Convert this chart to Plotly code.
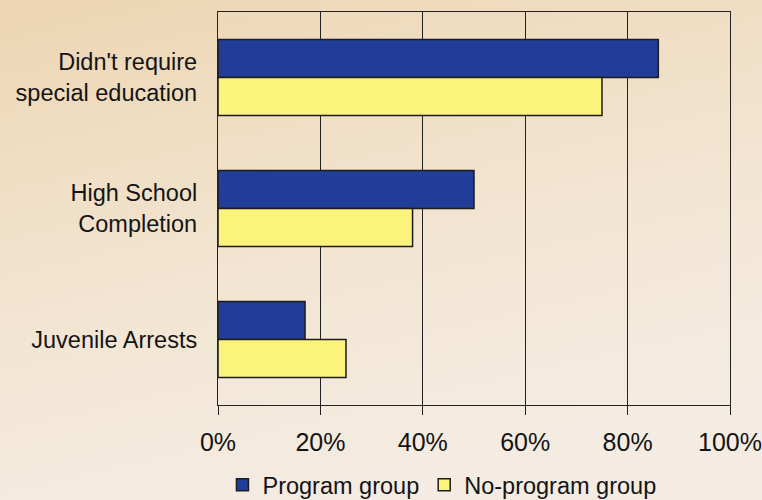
import base64
import plotly.graph_objects as go

# Outcome categories, top to bottom
categories = ["Didn't require<br>special education", "High School<br>Completion", "Juvenile Arrests"]
program_group = [86, 50, 17]
no_program_group = [75, 38, 25]
tick_values = [0, 20, 40, 60, 80, 100]
tick_labels = ["0%", "20%", "40%", "60%", "80%", "100%"]

BLUE = "#213d98"
YELLOW = "#fcf37c"
EDGE = "#1c1c1c"
TEXT = "#141414"
FONT = "Liberation Sans, Arial, sans-serif"

# soft beige paper gradient behind the chart
svg = (
    '<svg xmlns="http://www.w3.org/2000/svg" width="762" height="500">'
    '<defs><linearGradient id="g" x1="0" y1="0" x2="0.35" y2="1">'
    '<stop offset="0" stop-color="#edd5b3"/>'
    '<stop offset="0.55" stop-color="#f2e4d0"/>'
    '<stop offset="1" stop-color="#f4ece2"/>'
    '</linearGradient></defs>'
    '<rect width="762" height="500" fill="url(#g)"/></svg>'
)
bg_uri = "data:image/svg+xml;base64," + base64.b64encode(svg.encode()).decode()

fig = go.Figure()
fig.add_trace(go.Bar(
    y=categories, x=program_group, orientation="h", name="Program group",
    marker=dict(color=BLUE, line=dict(color=EDGE, width=1.5)),
))
fig.add_trace(go.Bar(
    y=categories, x=no_program_group, orientation="h", name="No-program group",
    marker=dict(color=YELLOW, line=dict(color=EDGE, width=1.5)),
))

fig.update_layout(
    width=762, height=500,
    margin=dict(l=218, r=32, t=12, b=95, autoexpand=False),
    paper_bgcolor="#f2e4d0",
    plot_bgcolor="white",
    barmode="group",
    bargap=0.42,
    bargroupgap=0,
    font=dict(family=FONT, size=23, color=TEXT),
    images=[dict(source=bg_uri, xref="paper", yref="paper", x=-218 / 512, y=1 + 12 / 393,
                 sizex=762 / 512, sizey=500 / 393, xanchor="left", yanchor="top",
                 sizing="stretch", layer="below")],
    legend=dict(
        orientation="h", xref="container", yref="container",
        x=0.58, xanchor="center", y=0.03, yanchor="middle",
        font=dict(size=23.5, color=TEXT), bgcolor="rgba(0,0,0,0)",
        itemwidth=30, tracegroupgap=0,
    ),
    showlegend=True,
)

fig.update_xaxes(
    range=[0, 100], tickvals=tick_values, ticktext=tick_labels,
    showgrid=True, gridcolor="#222222", gridwidth=1,
    showline=True, linecolor="#222222", linewidth=1.2, mirror=True,
    ticks="outside", ticklen=9, tickcolor="#222222", tickwidth=1.2,
    ticklabelstandoff=6, automargin=False,
    tickfont=dict(size=25, color=TEXT), zeroline=False, fixedrange=True,
)
fig.update_yaxes(
    categoryorder="array", categoryarray=categories, autorange="reversed",
    showline=True, linecolor="#222222", linewidth=1.2, mirror=True,
    showgrid=False, ticks="", ticklabelstandoff=15, automargin=False,
    tickfont=dict(size=23.5, color=TEXT), fixedrange=True,
)

fig.write_html("out.html")
